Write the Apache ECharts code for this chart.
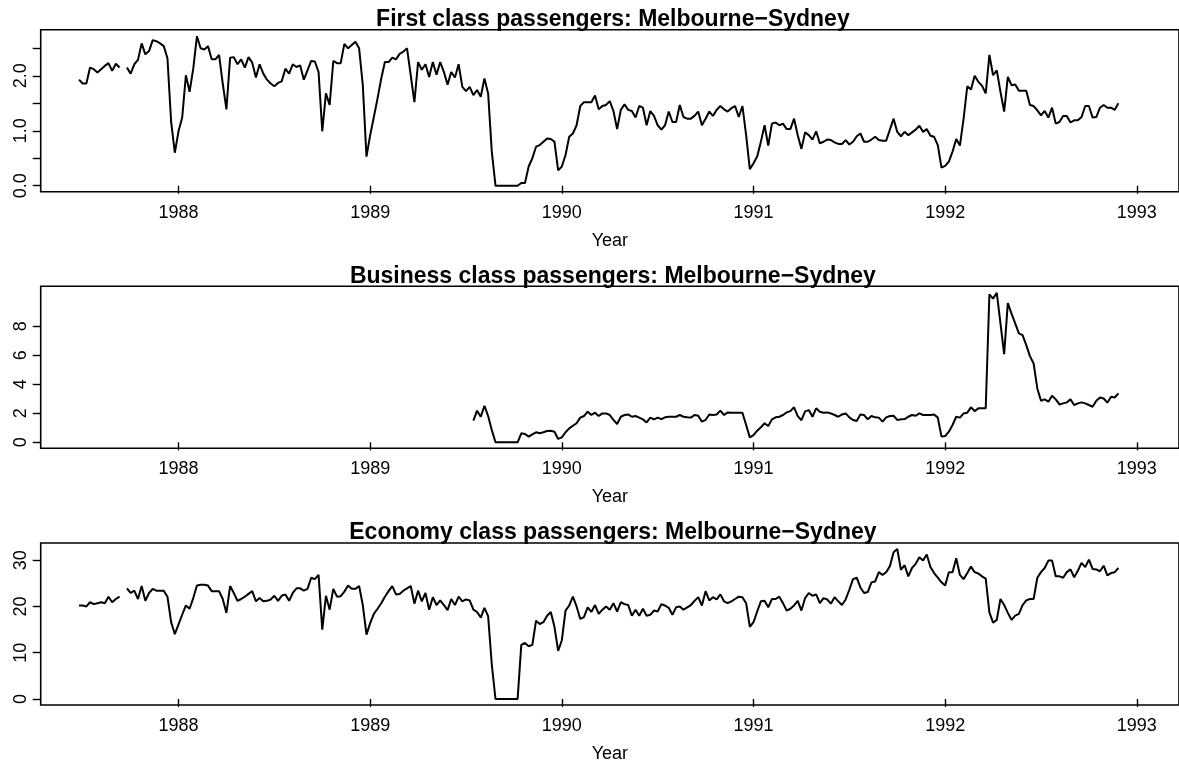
<!DOCTYPE html>
<html>
<head>
<meta charset="utf-8">
<script src="https://cdn.jsdelivr.net/npm/echarts@6/dist/echarts.min.js"></script>
<style>
  html, body { margin: 0; padding: 0; background: #fff; }
  #chart { width: 1179px; height: 772px; }
</style>
</head>
<body>
<div id="chart"></div>
<script>
// weekly series, starting 1987 week 26 (283 weeks)
var firstClass = [
  1.93, 1.86, 1.86, 2.15, 2.12, 2.06, 2.12, 2.18, 2.23, 2.09,
  2.22, 2.15, null, 2.15, 2.04, 2.21, 2.29, 2.59, 2.39, 2.45,
  2.65, 2.63, 2.59, 2.54, 2.32, 1.16, 0.60, 0.99, 1.24, 2.01,
  1.71, 2.13, 2.72, 2.50, 2.48, 2.54, 2.30, 2.30, 2.38, 1.86,
  1.39, 2.33, 2.34, 2.21, 2.30, 2.15, 2.34, 2.24, 1.97, 2.21,
  2.04, 1.93, 1.86, 1.81, 1.87, 1.90, 2.13, 2.04, 2.21, 2.16,
  2.19, 1.93, 2.10, 2.27, 2.26, 2.07, 0.99, 1.68, 1.47, 2.27,
  2.23, 2.23, 2.58, 2.50, 2.56, 2.62, 2.50, 1.83, 0.53, 0.92,
  1.25, 1.59, 1.95, 2.25, 2.25, 2.33, 2.30, 2.40, 2.44, 2.50,
  2.01, 1.52, 2.25, 2.11, 2.21, 1.98, 2.25, 2.02, 2.25, 2.07,
  1.84, 2.07, 1.97, 2.21, 1.80, 1.72, 1.80, 1.65, 1.74, 1.62,
  1.95, 1.68, 0.62, 0.00, 0.00, 0.00, 0.00, 0.00, 0.00, 0.00,
  0.05, 0.05, 0.35, 0.50, 0.71, 0.74, 0.80, 0.86, 0.85, 0.80,
  0.28, 0.35, 0.56, 0.89, 0.95, 1.10, 1.45, 1.52, 1.52, 1.52,
  1.64, 1.39, 1.45, 1.47, 1.54, 1.36, 1.03, 1.38, 1.48, 1.38,
  1.36, 1.24, 1.45, 1.42, 1.10, 1.36, 1.27, 1.10, 1.02, 1.10,
  1.35, 1.16, 1.16, 1.47, 1.25, 1.22, 1.22, 1.27, 1.35, 1.10,
  1.22, 1.35, 1.27, 1.38, 1.45, 1.39, 1.35, 1.41, 1.45, 1.25,
  1.45, 0.92, 0.30, 0.41, 0.53, 0.80, 1.10, 0.73, 1.13, 1.15,
  1.10, 1.13, 1.03, 1.03, 1.22, 0.92, 0.67, 0.97, 0.92, 0.84,
  0.99, 0.77, 0.80, 0.84, 0.83, 0.79, 0.76, 0.76, 0.83, 0.75,
  0.80, 0.90, 0.95, 0.80, 0.80, 0.84, 0.89, 0.83, 0.82, 0.82,
  1.02, 1.22, 0.98, 0.90, 0.98, 0.92, 0.97, 1.02, 1.09, 0.98,
  1.03, 0.91, 0.89, 0.74, 0.33, 0.36, 0.44, 0.62, 0.85, 0.73,
  1.22, 1.81, 1.75, 2.00, 1.89, 1.82, 1.68, 2.38, 2.01, 2.10,
  1.71, 1.35, 1.98, 1.83, 1.84, 1.73, 1.73, 1.73, 1.47, 1.45,
  1.37, 1.28, 1.36, 1.24, 1.42, 1.13, 1.16, 1.27, 1.27, 1.15,
  1.19, 1.19, 1.25, 1.45, 1.45, 1.24, 1.25, 1.42, 1.47, 1.42,
  1.42, 1.38, 1.50
];

var businessClass = [
  null, null, null, null, null, null, null, null, null, null,
  null, null, null, null, null, null, null, null, null, null,
  null, null, null, null, null, null, null, null, null, null,
  null, null, null, null, null, null, null, null, null, null,
  null, null, null, null, null, null, null, null, null, null,
  null, null, null, null, null, null, null, null, null, null,
  null, null, null, null, null, null, null, null, null, null,
  null, null, null, null, null, null, null, null, null, null,
  null, null, null, null, null, null, null, null, null, null,
  null, null, null, null, null, null, null, null, null, null,
  null, null, null, null, null, null, null, 1.49, 2.18, 1.76,
  2.52, 1.81, 0.85, 0.00, 0.00, 0.00, 0.00, 0.00, 0.00, 0.00,
  0.62, 0.57, 0.39, 0.55, 0.69, 0.62, 0.69, 0.78, 0.80, 0.73,
  0.23, 0.34, 0.69, 0.96, 1.14, 1.31, 1.70, 1.81, 2.11, 1.88,
  2.04, 1.81, 1.99, 1.99, 1.88, 1.54, 1.26, 1.76, 1.88, 1.92,
  1.76, 1.81, 1.70, 1.58, 1.37, 1.70, 1.58, 1.70, 1.60, 1.72,
  1.76, 1.76, 1.76, 1.88, 1.76, 1.72, 1.70, 1.88, 1.83, 1.42,
  1.54, 1.92, 1.88, 1.92, 2.18, 1.88, 2.06, 2.04, 2.04, 2.04,
  2.04, 1.19, 0.34, 0.50, 0.80, 1.03, 1.31, 1.12, 1.58, 1.72,
  1.76, 1.88, 2.06, 2.15, 2.41, 1.80, 1.52, 2.13, 2.22, 1.76,
  2.34, 2.11, 2.04, 2.06, 1.99, 1.88, 1.76, 1.92, 1.99, 1.72,
  1.54, 1.47, 1.92, 1.88, 1.58, 1.81, 1.72, 1.70, 1.42, 1.72,
  1.81, 1.83, 1.54, 1.58, 1.60, 1.76, 1.88, 1.83, 1.99, 1.88,
  1.88, 1.88, 1.92, 1.70, 0.39, 0.43, 0.73, 1.19, 1.76, 1.70,
  1.99, 2.04, 2.41, 2.15, 2.34, 2.34, 2.34, 10.2, 9.90, 10.3,
  8.19, 6.08, 9.60, 8.87, 8.19, 7.50, 7.38, 6.70, 5.94, 5.43,
  3.71, 2.86, 2.96, 2.80, 3.21, 2.96, 2.61, 2.68, 2.75, 2.96,
  2.57, 2.68, 2.75, 2.68, 2.57, 2.45, 2.86, 3.09, 3.02, 2.73,
  3.14, 3.09, 3.37
];

var economyClass = [
  20.2, 20.2, 20.0, 20.9, 20.5, 20.7, 20.9, 20.7, 22.1, 20.9,
  21.6, 22.1, null, 23.9, 22.9, 23.4, 21.6, 24.4, 21.2, 22.9,
  23.8, 23.4, 23.4, 23.4, 22.1, 16.6, 14.0, 16.1, 18.2, 20.2,
  19.5, 21.8, 24.5, 24.7, 24.7, 24.5, 23.3, 23.3, 23.3, 21.6,
  18.6, 24.4, 22.9, 21.2, 21.6, 22.1, 22.7, 23.3, 21.1, 21.8,
  21.1, 21.2, 21.5, 22.3, 21.2, 22.3, 22.6, 21.2, 22.9, 23.9,
  23.9, 23.4, 23.8, 26.2, 25.9, 26.8, 15.0, 22.3, 19.3, 23.8,
  22.1, 22.2, 23.2, 24.5, 23.8, 23.8, 24.4, 20.3, 13.9, 16.4,
  18.4, 19.5, 20.7, 22.1, 23.3, 24.4, 22.6, 22.7, 23.4, 23.9,
  24.4, 20.6, 23.4, 21.1, 22.9, 19.3, 22.0, 20.3, 21.3, 20.3,
  19.2, 21.6, 20.3, 22.1, 21.1, 21.5, 21.3, 19.3, 18.8, 17.6,
  19.7, 17.9, 7.4, 0.0, 0.0, 0.0, 0.0, 0.0, 0.0, 0.0,
  11.7, 12.1, 11.4, 11.7, 16.9, 16.2, 16.6, 18.0, 18.8, 15.6,
  10.4, 12.7, 19.1, 20.2, 22.1, 20.0, 17.3, 17.7, 19.8, 18.8,
  20.3, 18.4, 19.3, 20.0, 19.3, 20.7, 18.9, 20.9, 20.5, 20.3,
  18.0, 19.3, 18.0, 19.5, 18.0, 18.2, 19.1, 18.9, 20.5, 20.2,
  19.7, 18.2, 19.8, 20.0, 19.3, 19.8, 20.3, 21.2, 22.0, 20.2,
  23.3, 21.3, 22.0, 21.5, 22.6, 21.1, 20.7, 21.1, 21.6, 22.1,
  22.0, 20.7, 15.6, 16.6, 18.9, 21.1, 21.2, 19.8, 21.6, 21.6,
  22.1, 20.7, 19.1, 19.5, 20.2, 21.2, 19.1, 21.8, 22.9, 22.3,
  22.6, 20.7, 21.8, 21.5, 20.6, 22.0, 21.1, 20.3, 21.5, 23.6,
  25.9, 26.2, 24.1, 22.9, 23.1, 25.2, 25.4, 27.4, 26.8, 27.4,
  28.7, 31.7, 32.4, 27.9, 28.9, 26.5, 28.3, 29.2, 30.6, 29.9,
  31.2, 28.5, 27.2, 26.2, 25.2, 24.5, 27.4, 27.4, 30.4, 26.8,
  25.9, 27.2, 28.6, 27.4, 27.1, 26.5, 26.0, 18.7, 16.5, 17.1,
  21.6, 20.3, 18.6, 17.1, 18.0, 18.4, 20.3, 21.3, 21.6, 21.6,
  26.2, 27.4, 28.3, 29.9, 29.9, 26.5, 26.5, 26.2, 27.4, 28.0,
  26.3, 27.7, 29.4, 28.5, 30.1, 28.1, 28.0, 27.6, 28.8, 26.7,
  27.2, 27.4, 28.3
];

var yearTicks = [1988, 1989, 1990, 1991, 1992, 1993];
var firstTicks = [0, 0.5, 1, 1.5, 2, 2.5];
var firstLabels = [0, 1, 2];
var businessTicks = [0, 2, 4, 6, 8];
var economyTicks = [0, 10, 20, 30];

var titles = [
  'First class passengers: Melbourne\u2212Sydney',
  'Business class passengers: Melbourne\u2212Sydney',
  'Economy class passengers: Melbourne\u2212Sydney'
];

// time index of each week
var weeks = firstClass.map(function (d, i) { return 1987 + (25 + i) / 52; });

var FONT = 'Liberation Sans, Arial, Helvetica, sans-serif';
var gridTops = [29.7, 286.3, 543];
var yRanges = [[-0.109, 2.839], [-0.414, 10.75], [-1.296, 33.70]];

function pairs(arr) {
    return weeks.map(function (t, i) { return [t, arr[i]]; });
}

var grids = [], xAxes = [], yAxes = [], series = [], graphics = [];
var allSeries = [firstClass, businessClass, economyClass];
var tickSets = [firstTicks, businessTicks, economyTicks];
var labelSets = [firstLabels, businessTicks, economyTicks];

for (var k = 0; k < 3; k++) {
    grids.push({
        left: 40.7, top: gridTops[k], width: 1144.3, height: 162,
        show: true, borderColor: '#000', borderWidth: 1.6, containLabel: false
    });
    xAxes.push({
        gridIndex: k, type: 'value', min: 1987.281, max: 1993.22,
        name: 'Year', nameLocation: 'middle', nameGap: 40,
        nameTextStyle: { color: '#000', fontSize: 18, fontFamily: FONT },
        axisLine: { show: false },
        splitLine: { show: false },
        axisTick: { show: true, length: 8, customValues: yearTicks,
            lineStyle: { color: '#000', width: 1.4 } },
        axisLabel: { customValues: yearTicks, margin: 12, color: '#000',
            fontSize: 18, fontFamily: FONT,
            formatter: function (v) { return String(v); } }
    });
    yAxes.push({
        gridIndex: k, type: 'value', min: yRanges[k][0], max: yRanges[k][1],
        axisLine: { show: false },
        splitLine: { show: false },
        axisTick: { show: true, length: 8, customValues: tickSets[k],
            lineStyle: { color: '#000', width: 1.4 } },
        axisLabel: { customValues: labelSets[k], rotate: 90, margin: 11,
            color: '#000', fontSize: 18, fontFamily: FONT,
            formatter: k === 0 ? function (v) { return v.toFixed(1); } : function (v) { return String(v); } }
    });
    series.push({
        type: 'line', xAxisIndex: k, yAxisIndex: k,
        data: pairs(allSeries[k]),
        showSymbol: false, connectNulls: false, animation: false,
        lineStyle: { color: '#000', width: 2 }
    });
    graphics.push({
        type: 'text', x: 612.9, y: gridTops[k] - 10,
        style: { text: titles[k], textAlign: 'center', textVerticalAlign: 'middle',
            fill: '#000', font: 'bold 23px ' + FONT }
    });
}

var myChart = echarts.init(document.getElementById('chart'));
myChart.setOption({
    animation: false,
    grid: grids,
    xAxis: xAxes,
    yAxis: yAxes,
    series: series,
    graphic: graphics
});
</script>
</body>
</html>
